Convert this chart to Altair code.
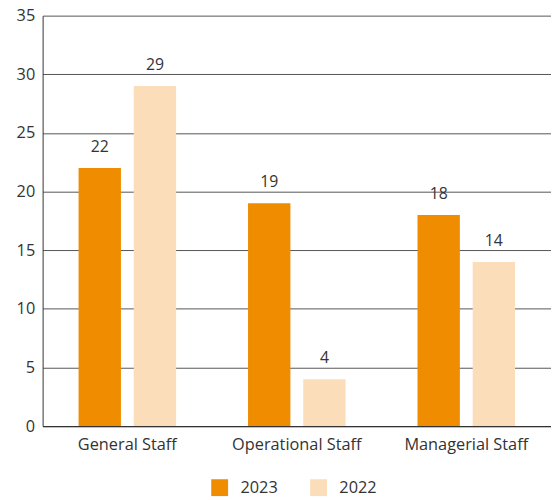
import altair as alt
import pandas as pd

categories = ["General Staff", "Operational Staff", "Managerial Staff"]
years = ["2023", "2022"]
values_2023 = [22, 19, 18]
values_2022 = [29, 4, 14]
colors = ["#F08C00", "#FCDDBA"]

rows = []
for c, v in zip(categories, values_2023):
    rows.append({"category": c, "year": "2023", "value": v})
for c, v in zip(categories, values_2022):
    rows.append({"category": c, "year": "2022", "value": v})
df = pd.DataFrame(rows)

FONT = "Open Sans"

base = alt.Chart(df).encode(
    x=alt.X(
        "category:N",
        sort=categories,
        scale=alt.Scale(paddingInner=0.4244, paddingOuter=0.2122),
        axis=alt.Axis(
            title=None, labelAngle=0, ticks=False, domain=True,
            domainColor="#333333", domainWidth=1.2,
            labelFontSize=16.5, labelColor="#333333", labelPadding=11,
            labelFont=FONT,
        ),
    ),
    xOffset=alt.XOffset("year:N", sort=years, scale=alt.Scale(paddingInner=0.232)),
    y=alt.Y(
        "value:Q",
        scale=alt.Scale(domain=[0, 35]),
        axis=alt.Axis(
            title=None, values=[0, 5, 10, 15, 20, 25, 30, 35], ticks=False,
            domain=True, domainColor="#333333", grid=True, gridColor="#555555",
            gridWidth=1, labelFontSize=16.5, labelColor="#333333", labelPadding=8,
            labelFont=FONT,
        ),
    ),
)

bars = base.mark_bar().encode(
    color=alt.Color(
        "year:N",
        sort=years,
        scale=alt.Scale(domain=years, range=colors),
        legend=alt.Legend(
            title=None, orient="none", direction="horizontal",
            legendX=170, legendY=468,
            symbolType="square", symbolSize=290, symbolStrokeWidth=0,
            labelFontSize=16.5, labelColor="#333333", labelFont=FONT,
            columnPadding=32, labelOffset=12,
        ),
    )
)

text = base.mark_text(dy=-21, fontSize=16, font=FONT, color="#333333").encode(
    text="value:Q"
)

chart = (
    alt.layer(bars, text)
    .properties(
        width=514, height=415,
        autosize=alt.AutoSizeParams(type="none"),
        padding={"left": 35, "top": 5, "right": 0, "bottom": 72},
    )
    .configure_view(stroke=None)
)

chart.save("out.html", embed_options={"renderer": "svg", "actions": False})
